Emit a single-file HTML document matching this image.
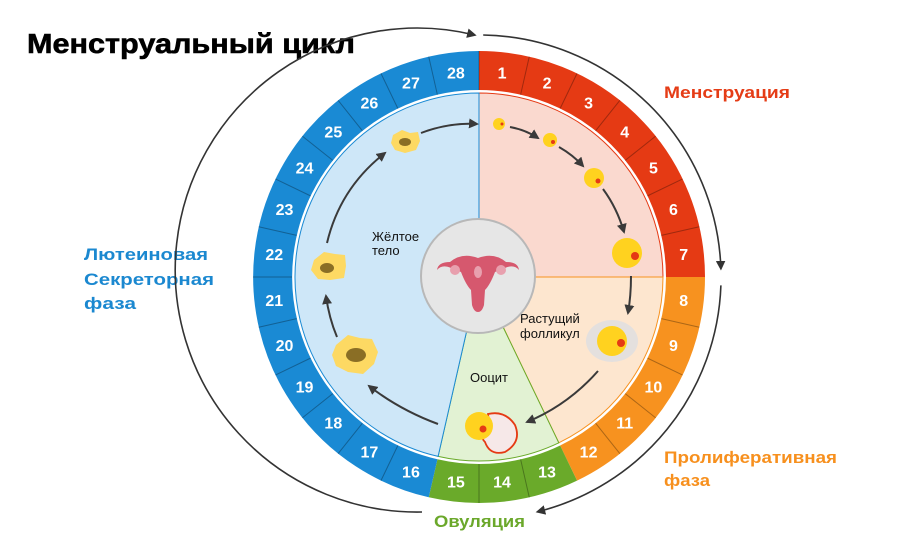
<!DOCTYPE html>
<html><head><meta charset="utf-8"><style>
body{margin:0;background:#fff;width:920px;height:540px;overflow:hidden}
svg{display:block;font-family:"Liberation Sans","DejaVu Sans",sans-serif}
.n{fill:#fff;font-weight:bold;font-size:16px;text-anchor:middle}
.a{fill:none;stroke:#3a3a3a;stroke-width:2}
.o{fill:none;stroke:#333;stroke-width:1.6}
</style></head><body>
<svg width="920" height="540" viewBox="0 0 920 540">
<defs>
<marker id="m" viewBox="0 0 10 10" refX="8" refY="5" markerWidth="6" markerHeight="6" orient="auto"><path d="M0,0L10,5L0,10z" fill="#333"/></marker>
<marker id="mi" viewBox="0 0 10 10" refX="8" refY="5" markerWidth="5" markerHeight="5" orient="auto"><path d="M0,0L10,5L0,10z" fill="#3a3a3a"/></marker>
</defs>
<text x="27" y="53" font-size="28" font-weight="bold" fill="#000" textLength="328" lengthAdjust="spacingAndGlyphs" stroke="#000" stroke-width="0.6">Менструальный цикл</text>
<text x="664" y="98" font-size="17" font-weight="bold" fill="#E53C16" textLength="126" lengthAdjust="spacingAndGlyphs">Менструация</text>
<text x="84" y="260" font-size="17" font-weight="bold" fill="#1B88D0" textLength="124" lengthAdjust="spacingAndGlyphs">Лютеиновая</text>
<text x="84" y="285" font-size="17" font-weight="bold" fill="#1B88D0" textLength="130" lengthAdjust="spacingAndGlyphs">Секреторная</text>
<text x="84" y="309" font-size="17" font-weight="bold" fill="#1B88D0" textLength="52" lengthAdjust="spacingAndGlyphs">фаза</text>
<text x="664" y="463" font-size="17" font-weight="bold" fill="#F7901E" textLength="173" lengthAdjust="spacingAndGlyphs">Пролиферативная</text>
<text x="664" y="486" font-size="17" font-weight="bold" fill="#F7901E" textLength="46" lengthAdjust="spacingAndGlyphs">фаза</text>
<text x="434" y="527" font-size="17" font-weight="bold" fill="#6BA82B" textLength="91" lengthAdjust="spacingAndGlyphs">Овуляция</text>

<path class="o" d="M422,512 A242,242 0 1 1 474.8,35" marker-end="url(#m)"/>
<path class="o" d="M483.2,35 A242,242 0 0 1 720.9,268.6" marker-end="url(#m)"/>
<path class="o" d="M720.9,285.4 A242,242 0 0 1 537.5,511.8" marker-end="url(#m)"/>

<g fill="none" stroke-width="39">
<path d="M479,70.5 A206.5,206.5 0 0 1 685.5,277" stroke="#E53A14"/>
<path d="M685.5,277 A206.5,206.5 0 0 1 568.6,463.1" stroke="#F7921F"/>
<path d="M568.6,463.1 A206.5,206.5 0 0 1 433.1,478.3" stroke="#6AAA2A"/>
<path d="M433.1,478.3 A206.5,206.5 0 0 1 479,70.5" stroke="#1A8AD4"/>
</g>
<g stroke="rgba(0,0,0,0.3)" stroke-width="1">
<line x1="479" y1="51" x2="479" y2="90" transform="rotate(0 479 277)"/>
<line x1="479" y1="51" x2="479" y2="90" transform="rotate(12.857 479 277)"/>
<line x1="479" y1="51" x2="479" y2="90" transform="rotate(25.714 479 277)"/>
<line x1="479" y1="51" x2="479" y2="90" transform="rotate(38.571 479 277)"/>
<line x1="479" y1="51" x2="479" y2="90" transform="rotate(51.429 479 277)"/>
<line x1="479" y1="51" x2="479" y2="90" transform="rotate(64.286 479 277)"/>
<line x1="479" y1="51" x2="479" y2="90" transform="rotate(77.143 479 277)"/>
<line x1="479" y1="51" x2="479" y2="90" transform="rotate(102.857 479 277)"/>
<line x1="479" y1="51" x2="479" y2="90" transform="rotate(115.714 479 277)"/>
<line x1="479" y1="51" x2="479" y2="90" transform="rotate(128.571 479 277)"/>
<line x1="479" y1="51" x2="479" y2="90" transform="rotate(141.429 479 277)"/>
<line x1="479" y1="51" x2="479" y2="90" transform="rotate(167.143 479 277)"/>
<line x1="479" y1="51" x2="479" y2="90" transform="rotate(180 479 277)"/>
<line x1="479" y1="51" x2="479" y2="90" transform="rotate(205.714 479 277)"/>
<line x1="479" y1="51" x2="479" y2="90" transform="rotate(218.571 479 277)"/>
<line x1="479" y1="51" x2="479" y2="90" transform="rotate(231.429 479 277)"/>
<line x1="479" y1="51" x2="479" y2="90" transform="rotate(244.286 479 277)"/>
<line x1="479" y1="51" x2="479" y2="90" transform="rotate(257.143 479 277)"/>
<line x1="479" y1="51" x2="479" y2="90" transform="rotate(270 479 277)"/>
<line x1="479" y1="51" x2="479" y2="90" transform="rotate(282.857 479 277)"/>
<line x1="479" y1="51" x2="479" y2="90" transform="rotate(295.714 479 277)"/>
<line x1="479" y1="51" x2="479" y2="90" transform="rotate(308.571 479 277)"/>
<line x1="479" y1="51" x2="479" y2="90" transform="rotate(321.429 479 277)"/>
<line x1="479" y1="51" x2="479" y2="90" transform="rotate(334.286 479 277)"/>
<line x1="479" y1="51" x2="479" y2="90" transform="rotate(347.143 479 277)"/>
</g>
<g class="n">
<text x="479" y="283" transform="rotate(6.43 479 277) translate(0 -206) rotate(-6.43 479 277)">1</text>
<text x="479" y="283" transform="rotate(19.29 479 277) translate(0 -206) rotate(-19.29 479 277)">2</text>
<text x="479" y="283" transform="rotate(32.14 479 277) translate(0 -206) rotate(-32.14 479 277)">3</text>
<text x="479" y="283" transform="rotate(45 479 277) translate(0 -206) rotate(-45 479 277)">4</text>
<text x="479" y="283" transform="rotate(57.86 479 277) translate(0 -206) rotate(-57.86 479 277)">5</text>
<text x="479" y="283" transform="rotate(70.71 479 277) translate(0 -206) rotate(-70.71 479 277)">6</text>
<text x="479" y="283" transform="rotate(83.57 479 277) translate(0 -206) rotate(-83.57 479 277)">7</text>
<text x="479" y="283" transform="rotate(96.43 479 277) translate(0 -206) rotate(-96.43 479 277)">8</text>
<text x="479" y="283" transform="rotate(109.29 479 277) translate(0 -206) rotate(-109.29 479 277)">9</text>
<text x="479" y="283" transform="rotate(122.14 479 277) translate(0 -206) rotate(-122.14 479 277)">10</text>
<text x="479" y="283" transform="rotate(135 479 277) translate(0 -206) rotate(-135 479 277)">11</text>
<text x="479" y="283" transform="rotate(147.86 479 277) translate(0 -206) rotate(-147.86 479 277)">12</text>
<text x="479" y="283" transform="rotate(160.71 479 277) translate(0 -206) rotate(-160.71 479 277)">13</text>
<text x="479" y="283" transform="rotate(173.57 479 277) translate(0 -206) rotate(-173.57 479 277)">14</text>
<text x="479" y="283" transform="rotate(186.43 479 277) translate(0 -206) rotate(-186.43 479 277)">15</text>
<text x="479" y="283" transform="rotate(199.29 479 277) translate(0 -206) rotate(-199.29 479 277)">16</text>
<text x="479" y="283" transform="rotate(212.14 479 277) translate(0 -206) rotate(-212.14 479 277)">17</text>
<text x="479" y="283" transform="rotate(225 479 277) translate(0 -206) rotate(-225 479 277)">18</text>
<text x="479" y="283" transform="rotate(237.86 479 277) translate(0 -206) rotate(-237.86 479 277)">19</text>
<text x="479" y="283" transform="rotate(250.71 479 277) translate(0 -206) rotate(-250.71 479 277)">20</text>
<text x="479" y="283" transform="rotate(263.57 479 277) translate(0 -206) rotate(-263.57 479 277)">21</text>
<text x="479" y="283" transform="rotate(276.43 479 277) translate(0 -206) rotate(-276.43 479 277)">22</text>
<text x="479" y="283" transform="rotate(289.29 479 277) translate(0 -206) rotate(-289.29 479 277)">23</text>
<text x="479" y="283" transform="rotate(302.14 479 277) translate(0 -206) rotate(-302.14 479 277)">24</text>
<text x="479" y="283" transform="rotate(315 479 277) translate(0 -206) rotate(-315 479 277)">25</text>
<text x="479" y="283" transform="rotate(327.86 479 277) translate(0 -206) rotate(-327.86 479 277)">26</text>
<text x="479" y="283" transform="rotate(340.71 479 277) translate(0 -206) rotate(-340.71 479 277)">27</text>
<text x="479" y="283" transform="rotate(353.57 479 277) translate(0 -206) rotate(-353.57 479 277)">28</text>
</g>

<path d="M479,277 L479,93 A184,184 0 0 1 663,277 Z" fill="#FAD9CF" stroke="#E53A14" stroke-width="1"/>
<path d="M479,277 L663,277 A184,184 0 0 1 558.8,442.8 Z" fill="#FDE6CF" stroke="#F7921F" stroke-width="1"/>
<path d="M479,277 L558.8,442.8 A184,184 0 0 1 438.1,456.4 Z" fill="#E2F2D3" stroke="#6AAA2A" stroke-width="1"/>
<path d="M479,277 L438.1,456.4 A184,184 0 0 1 479,93 Z" fill="#CEE7F8" stroke="#1A8AD4" stroke-width="1"/>

<g class="a">
<path d="M421,133 Q450,122 477,124" marker-end="url(#mi)"/>
<path d="M510,127 Q526,130 538,138" marker-end="url(#mi)"/>
<path d="M559,147 Q573,155 583,166" marker-end="url(#mi)"/>
<path d="M603,189 Q617,208 624,232" marker-end="url(#mi)"/>
<path d="M631,276 Q631,296 628,313" marker-end="url(#mi)"/>
<path d="M598,371 Q568,405 527,422" marker-end="url(#mi)"/>
<path d="M438,424 Q400,410 369,386" marker-end="url(#mi)"/>
<path d="M337,337 Q329,318 326,296" marker-end="url(#mi)"/>
<path d="M327,243 Q340,188 385,153" marker-end="url(#mi)"/>
</g>

<circle cx="499" cy="124" r="6" fill="#FFD21F"/><circle cx="502" cy="124" r="1.5" fill="#E53A14"/>
<circle cx="550" cy="140" r="7" fill="#FFD21F"/><circle cx="553" cy="142" r="2" fill="#E53A14"/>
<circle cx="594" cy="178" r="10" fill="#FFD21F"/><circle cx="598" cy="181" r="2.5" fill="#E53A14"/>
<circle cx="627" cy="253" r="15" fill="#FFD21F"/><circle cx="635" cy="256" r="4" fill="#E53A14"/>
<ellipse cx="612" cy="341" rx="26" ry="21" fill="#E4E0DE"/>
<circle cx="612" cy="341" r="15" fill="#FFD21F"/><circle cx="621" cy="343" r="4" fill="#E53A14"/>
<path d="M488,414 Q505,410 515,425 Q522,442 505,452 Q490,456 485,442 Q478,435 490,430 Z" fill="#F6E8E8" stroke="#E53A14" stroke-width="1.8"/>
<circle cx="479" cy="426" r="14" fill="#FFD21F"/><circle cx="483" cy="429" r="3.5" fill="#E53A14"/>

<path d="M393,135 L402,130 L410,133 L418,132 L420,141 L416,150 L405,153 L395,150 L391,143 Z" fill="#FDD963"/>
<ellipse cx="405" cy="142" rx="6" ry="4" fill="#8A6E25"/>
<path d="M314,260 L324,252 L335,254 L345,255 L346,266 L344,278 L330,280 L318,279 L311,270 Z" fill="#FDD963"/>
<ellipse cx="327" cy="268" rx="7" ry="5" fill="#8A6E25"/>
<path d="M336,345 L348,335 L360,338 L372,339 L378,352 L374,364 L363,374 L348,372 L336,366 L332,355 Z" fill="#FDD963"/>
<ellipse cx="356" cy="355" rx="10" ry="7" fill="#8A6E25"/>

<g font-size="13" fill="#111">
<text x="372" y="241">Жёлтое</text>
<text x="372" y="255">тело</text>
<text x="520" y="323">Растущий</text>
<text x="520" y="338">фолликул</text>
<text x="470" y="382">Ооцит</text>
</g>

<circle cx="478" cy="276" r="57" fill="#E6E6E6" stroke="#B8B8B8" stroke-width="2"/>
<path d="M450,262 Q462,252 478,258 Q494,252 506,262 Q518,262 519,270 Q514,264 505,268 L495,272 Q490,285 485,290 L484,305 Q482,312 478,312 Q474,312 472,305 L471,290 Q466,285 461,272 L451,268 Q442,264 437,270 Q438,262 450,262 Z" fill="#D6586E"/>
<circle cx="455" cy="270" r="5" fill="#E8A0AE"/><circle cx="501" cy="270" r="5" fill="#E8A0AE"/>
<ellipse cx="478" cy="272" rx="4" ry="6" fill="#E8A0AE"/>
</svg>
</body></html>
